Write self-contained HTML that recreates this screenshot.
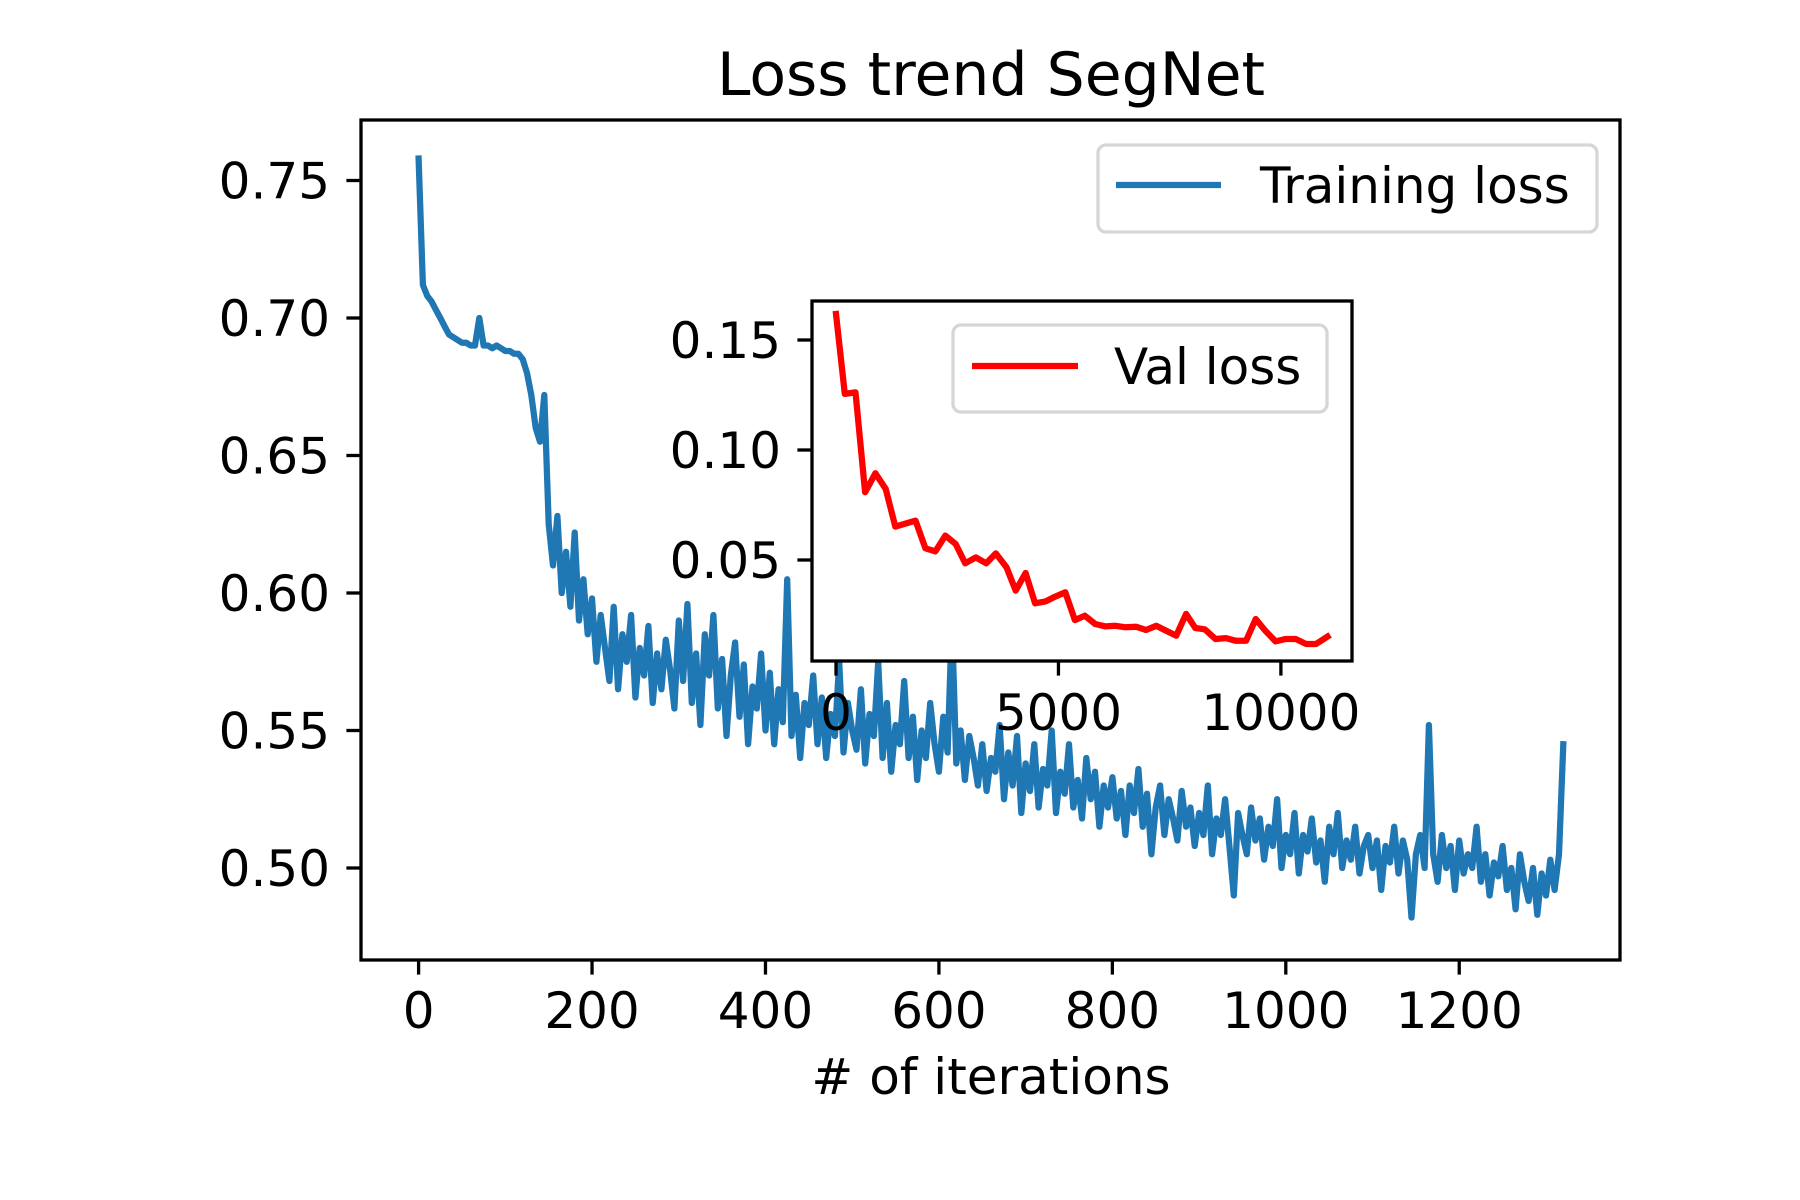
<!DOCTYPE html>
<html><head><meta charset="utf-8"><style>
html,body{margin:0;padding:0;background:#fff;}
svg{display:block;font-family:"DejaVu Sans","Liberation Sans",sans-serif;}
</style></head>
<body>
<svg id="chart" width="1800" height="1200" viewBox="0 0 1800 1200" xmlns="http://www.w3.org/2000/svg">
<rect width="1800" height="1200" fill="#fff"/>
<text x="991" y="95" font-size="60" text-anchor="middle">Loss trend SegNet</text>
<g id="main"></g>
<g id="inset"></g>
</svg>
<script>
const trainStep = 5;
const trainLoss = [0.758,0.712,0.708,0.706,0.703,0.700,0.697,0.694,0.693,0.692,0.691,0.691,0.690,0.690,0.700,0.690,0.690,0.689,0.690,0.689,0.688,0.688,0.687,0.687,0.685,0.680,0.672,0.660,0.655,0.672,0.625,
0.61,0.628,0.600,0.615,0.595,0.622,0.590,0.605,0.585,0.598,0.575,0.592,0.580,0.568,0.595,0.565,0.585,0.575,0.592,0.562,0.580,0.570,0.588,0.560,0.578,0.565,0.583,0.572,0.558,0.590,0.568,0.596,0.560,0.578,0.552,0.585,0.570,0.592,0.558,0.576,0.548,0.570,0.582,0.555,0.574,0.545,0.566,0.558,0.578,0.550,0.571,0.545,0.565,0.553,0.605,0.548,0.563,0.540,0.560,0.552,0.570,0.545,0.562,0.540,0.556,0.548,0.575,0.542,0.560,0.550,0.543,0.565,0.538,0.556,0.548,0.575,0.540,0.560,0.535,0.552,0.545,0.568,0.540,0.555,0.532,0.550,0.540,0.560,0.545,0.535,0.555,0.542,0.590,0.538,0.550,0.532,0.548,0.540,0.530,0.545,0.528,0.540,0.535,0.552,0.525,0.542,0.530,0.548,0.520,0.538,0.528,0.545,0.522,0.536,0.530,0.550,0.520,0.535,0.527,0.545,0.522,0.532,0.518,0.540,0.525,0.535,0.515,0.530,0.522,0.533,0.518,0.528,0.512,0.530,0.520,0.536,0.515,0.527,0.505,0.522,0.530,0.512,0.525,0.518,0.510,0.528,0.515,0.522,0.508,0.520,0.512,0.530,0.505,0.518,0.512,0.525,0.508,0.490,0.520,0.512,0.505,0.522,0.510,0.518,0.503,0.515,0.508,0.525,0.500,0.512,0.505,0.520,0.498,0.512,0.506,0.518,0.502,0.510,0.495,0.515,0.505,0.520,0.500,0.510,0.503,0.515,0.498,0.508,0.512,0.500,0.510,0.492,0.508,0.502,0.515,0.498,0.510,0.503,0.482,0.505,0.512,0.500,0.552,0.505,0.495,0.512,0.500,0.508,0.492,0.510,0.498,0.505,0.500,0.515,0.495,0.505,0.490,0.502,0.497,0.508,0.492,0.500,0.485,0.505,0.495,0.488,0.500,0.483,0.498,0.490,0.503,0.492,0.505,0.545];
const xTicks = [0,200,400,600,800,1000,1200];
const yTicks = [0.50,0.55,0.60,0.65,0.70,0.75];
const valIter = [0,198,438,653,885,1117,1332,1787,2010,2234,2457,2689,2904,3144,3376,3591,3832,4038,4261,4476,4708,4923,5155,5369,5593,5825,6057,6280,6512,6744,6967,7199,7414,7646,7869,8076,8290,8531,8763,8978,9218,9433,9648,9880,10103,10335,10567,10790,11048];
const valLoss = [0.1618,0.1255,0.1262,0.0808,0.0894,0.0823,0.0652,0.0679,0.0553,0.0539,0.0611,0.0573,0.0485,0.0512,0.0485,0.053,0.0467,0.0361,0.0441,0.0303,0.0312,0.0333,0.0353,0.0227,0.0247,0.0209,0.0198,0.0201,0.0194,0.0197,0.0182,0.0201,0.0179,0.0156,0.0255,0.0191,0.0185,0.0141,0.0145,0.0133,0.0133,0.0232,0.0179,0.013,0.0141,0.0141,0.0118,0.0118,0.0152];
const insetXTicks = [0,5000,10000];
const insetYTicks = [0.05,0.10,0.15];

const NS='http://www.w3.org/2000/svg';
const FS=50;
function mk(tag, attrs, parent){const e=document.createElementNS(NS,tag);for(const k in attrs)e.setAttribute(k,attrs[k]);parent.appendChild(e);return e;}
const M={l:361,r:1620,t:120,b:960};
const mx=v=>418.6+v*0.8672;
const my=v=>180.5+(0.75-v)/0.05*137.5;
const gm=document.getElementById('main');
let pts=trainLoss.map((v,i)=>mx(i*trainStep).toFixed(1)+','+my(v).toFixed(1)).join(' ');
const tl=mk('polyline',{points:pts,fill:'none',stroke:'#1f77b4','stroke-width':6.25,'stroke-linejoin':'round','stroke-linecap':'square'},gm);


const fr=mk('rect',{x:M.l,y:M.t,width:M.r-M.l,height:M.b-M.t,fill:'none',stroke:'#000','stroke-width':3.3},gm);


xTicks.forEach(t=>{
  const x=mx(t);
  const tk=mk('line',{x1:x,x2:x,y1:M.b,y2:M.b+14.6,stroke:'#000','stroke-width':3.3},gm);
  
  
  const tx=mk('text',{x:x,y:1028,'font-size':FS,'text-anchor':'middle'},gm);tx.textContent=t;
  
  
});
yTicks.forEach(t=>{
  const y=my(t);
  const tk=mk('line',{x1:M.l-14.6,x2:M.l,y1:y,y2:y,stroke:'#000','stroke-width':3.3},gm);
  
  
  const tx=mk('text',{x:330,y:y+18,'font-size':FS,'text-anchor':'end'},gm);tx.textContent=t.toFixed(2);
  
  
});
const xl=mk('text',{x:991,y:1094,'font-size':FS,'text-anchor':'middle'},gm);xl.textContent='# of iterations';


const lg=mk('rect',{x:1098,y:145,width:499,height:87,rx:8,fill:'#fff','fill-opacity':0.8,stroke:'#d6d6d6','stroke-width':3.3},gm);


const ll=mk('line',{x1:1116,x2:1221,y1:185,y2:185,stroke:'#1f77b4','stroke-width':6.25},gm);


const lt=mk('text',{x:1260,y:203,'font-size':FS},gm);lt.textContent='Training loss';



const I={l:812,r:1352,t:301,b:661};
const ix=v=>836+v*0.04449;
const iy=v=>340+(0.15-v)*2200;
const gi=document.getElementById('inset');
const bg=mk('rect',{x:I.l,y:I.t,width:I.r-I.l,height:I.b-I.t,fill:'#fff'},gi);


const vp=valIter.map((v,i)=>ix(v).toFixed(1)+','+iy(valLoss[i]).toFixed(1)).join(' ');
const vl=mk('polyline',{points:vp,fill:'none',stroke:'#ff0000','stroke-width':6.25,'stroke-linejoin':'round','stroke-linecap':'square'},gi);


const ifr=mk('rect',{x:I.l,y:I.t,width:I.r-I.l,height:I.b-I.t,fill:'none',stroke:'#000','stroke-width':3.3},gi);


insetXTicks.forEach(t=>{
  const x=ix(t);
  const tk=mk('line',{x1:x,x2:x,y1:I.b,y2:I.b+14.6,stroke:'#000','stroke-width':3.3},gi);
  
  
  const tx=mk('text',{x:x,y:730,'font-size':FS,'text-anchor':'middle'},gi);tx.textContent=t;
  
  
});
insetYTicks.forEach(t=>{
  const y=iy(t);
  const tk=mk('line',{x1:I.l-14.6,x2:I.l,y1:y,y2:y,stroke:'#000','stroke-width':3.3},gi);
  
  
  const tx=mk('text',{x:781,y:y+18,'font-size':FS,'text-anchor':'end'},gi);tx.textContent=t.toFixed(2);
  
  
});
const ilg=mk('rect',{x:953,y:325,width:374,height:87,rx:8,fill:'#fff','fill-opacity':0.8,stroke:'#d6d6d6','stroke-width':3.3},gi);


const il=mk('line',{x1:972,x2:1078,y1:366,y2:366,stroke:'#ff0000','stroke-width':6.25},gi);


const it=mk('text',{x:1114,y:384,'font-size':FS},gi);it.textContent='Val loss';


</script>
</body></html>
